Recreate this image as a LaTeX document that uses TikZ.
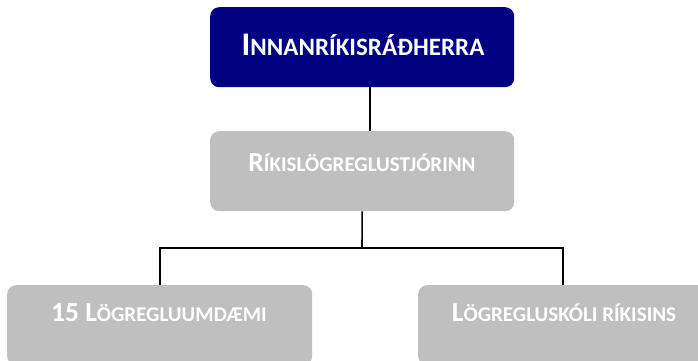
\documentclass[tikz,border=0pt]{standalone}
\usepackage{fontspec}
\setmainfont{Carlito}
\definecolor{navy}{RGB}{0,0,128}
\definecolor{boxgray}{RGB}{191,191,191}
\newcommand\TopSC[2]{{\fontsize{33}{33}\selectfont #1}{\fontsize{25}{25}\selectfont #2}}
\newcommand\LowSC[2]{{\fontsize{27.5}{27.5}\selectfont #1}{\fontsize{21}{21}\selectfont #2}}
\begin{document}
\begin{tikzpicture}[x=1pt,y=-1pt,
  orgbox/.style={draw=none,rounded corners=9pt,minimum width=304pt,minimum height=80pt,inner sep=0pt,anchor=north west},
  boxtext/.style={text=white,font=\bfseries,inner sep=0pt},
  conn/.style={draw=black,line width=1.6pt}]
\useasboundingbox (0,0) rectangle (698,360);
\node[orgbox,fill=navy] (top) at (210,7) {};
\node[boxtext] (toptxt) at (363,45) {\TopSC{I}{NNANRÍKISRÁÐHERRA}};
\node[orgbox,fill=boxgray] (mid) at (210,131) {};
\node[boxtext] (midtxt) at (362,163) {\LowSC{R}{ÍKISLÖGREGLUSTJÓRINN}};
\node[orgbox,fill=boxgray,minimum width=305pt] (left) at (7,285) {};
\node[boxtext] (lefttxt) at (159,313) {\LowSC{15 L}{ÖGREGLUUMDÆMI}};
\node[orgbox,fill=boxgray,minimum width=290pt] (right) at (418,285) {};
\node[boxtext] (righttxt) at (564,313) {\LowSC{L}{ÖGREGLUSKÓLI RÍKISINS}};
\coordinate (j) at (362,248);
\coordinate (rn) at (563,285);
\draw[conn] ([xshift=8pt]top.south) -- ([xshift=8pt]mid.north);
\draw[conn] (mid.south) -- (j);
\draw[conn] (left.north) |- (j) -| (rn);
\end{tikzpicture}
\end{document}
